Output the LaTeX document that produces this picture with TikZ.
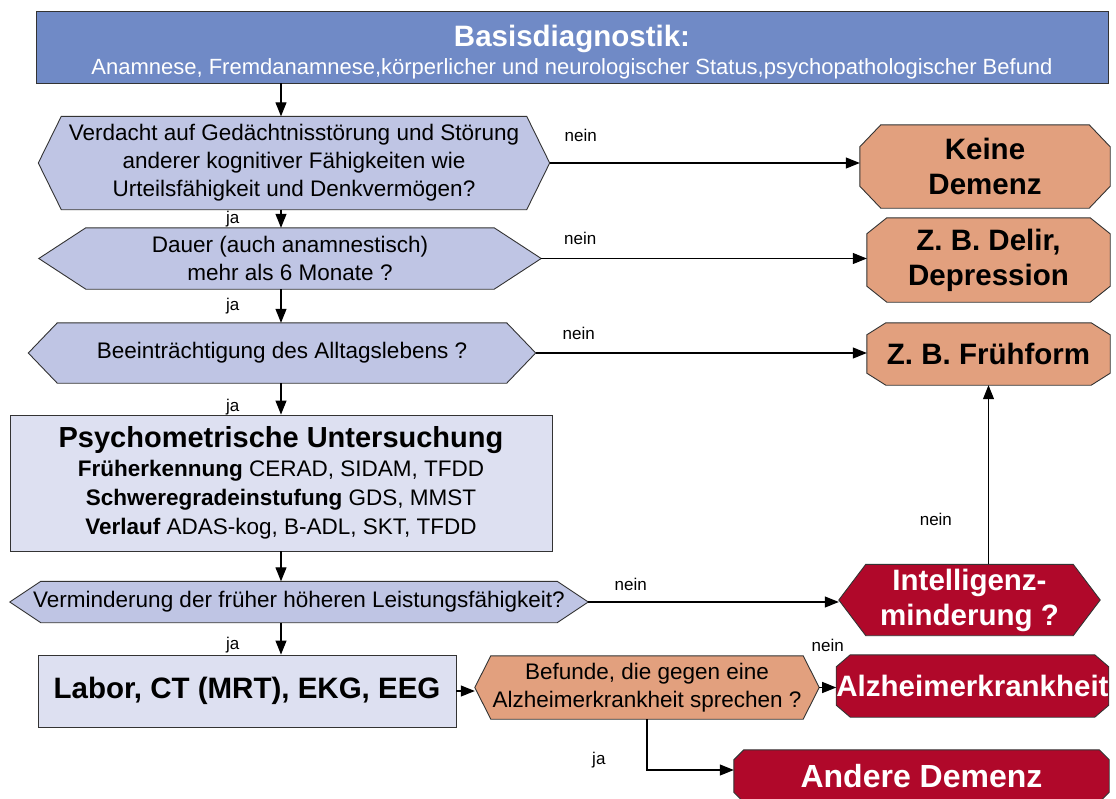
\documentclass[tikz,border=0pt]{standalone}
\usepackage{fontspec}
\setmainfont{Liberation Sans}
\usetikzlibrary{arrows.meta,backgrounds}
\definecolor{basisblue}{RGB}{112,138,198}
\definecolor{qlav}{RGB}{191,197,228}
\definecolor{boxlav}{RGB}{221,224,241}
\definecolor{dxorange}{RGB}{226,160,126}
\definecolor{dxred}{RGB}{176,8,42}
\newcommand{\fsz}[2]{\fontsize{#1}{#2}\selectfont}
% hexagon behind node #1, tip depth #2, style #3
\newcommand{\hexbg}[3]{%
  \path[#3] (#1.west) -- ([xshift=#2]#1.north west) -- ([xshift=-#2]#1.north east)
    -- (#1.east) -- ([xshift=-#2]#1.south east) -- ([xshift=#2]#1.south west) -- cycle;}
% octagon behind node #1, corner cut #2 x #3, style #4
\newcommand{\octbg}[4]{%
  \path[#4] ([xshift=#2]#1.north west) -- ([xshift=-#2]#1.north east)
    -- ([yshift=-#3]#1.north east) -- ([yshift=#3]#1.south east)
    -- ([xshift=-#2]#1.south east) -- ([xshift=#2]#1.south west)
    -- ([yshift=#3]#1.south west) -- ([yshift=-#3]#1.north west) -- cycle;}
\tikzset{
  fshape/.style={inner sep=0pt, align=center, font=\fsz{22.5}{28}},
  fq/.style    ={fill=qlav, draw=black!80, line width=0.9pt},
  forg/.style  ={fill=dxorange, draw=black!80, line width=0.9pt},
  fred/.style  ={fill=dxred, draw=black!80, line width=0.9pt},
  frect/.style ={fshape, fill=boxlav, draw=black!80, line width=0.9pt},
  fbig/.style  ={font=\fsz{29.5}{35}\bfseries},
  fwhite/.style={fbig, text=white},
  flbl/.style  ={font=\fsz{17}{20}, inner sep=1pt},
  far/.style   ={-{Triangle[length=14pt,width=11pt]}, line width=1.1pt},
}
\begin{document}
\begin{tikzpicture}[x=1pt, y=-1pt]
\useasboundingbox (0,0) rectangle (1116,798);
\coordinate (spine) at (281,0);

\node[fshape, fill=basisblue, draw=black!80, line width=0.9pt, text=white,
      minimum width=1072pt, minimum height=72pt] (basis) at (572,47)
  {{\fsz{29.5}{32}\bfseries\rule{0pt}{31pt}Basisdiagnostik:}\\
   \fsz{22}{24}Anamnese, Fremdanamnese,körperlicher und neurologischer Status,psychopathologischer Befund};
\node[fshape, minimum width=511pt, minimum height=93pt] (q1) at (294,163)
  {Verdacht auf Gedächtnisstörung und Störung\\anderer kognitiver Fähigkeiten wie\\Urteilsfähigkeit und Denkvermögen?};
\node[fshape, minimum width=502pt, minimum height=61pt] (q2) at (290,258.5)
  {Dauer (auch anamnestisch)\\mehr als 6 Monate ?};
\node[fshape, minimum width=507pt, minimum height=60pt] (q3) at (282,353)
  {Beeinträchtigung des Alltagslebens ?};
\node[frect, font=\fsz{22.5}{29}, minimum width=542pt, minimum height=136pt] (psy) at (281,483)
  {{\fsz{29}{32}\bfseries Psychometrische Untersuchung}\\
   \textbf{Früherkennung} CERAD, SIDAM, TFDD\\
   \textbf{Schweregradeinstufung} GDS, MMST\\
   \textbf{Verlauf} ADAS-kog, B-ADL, SKT, TFDD};
\node[fshape, minimum width=578pt, minimum height=41pt] (q4) at (299,602)
  {Verminderung der früher höheren Leistungsfähigkeit?};
\node[frect, fbig, minimum width=418pt, minimum height=72pt] (labor) at (247,691)
  {Labor, CT (MRT), EKG, EEG};
\node[fshape, minimum width=344pt, minimum height=63pt] (bef) at (647,687.5)
  {Befunde, die gegen eine\\Alzheimerkrankheit sprechen ?};
\node[fshape, fbig, minimum width=250pt, minimum height=83pt] (keine) at (985,166.5) {Keine\\Demenz};
\node[fshape, fbig, minimum width=243pt, minimum height=84pt] (delir) at (988.5,260) {Z. B. Delir,\\Depression};
\node[fshape, fbig, minimum width=243pt, minimum height=62pt] (frueh) at (988.5,354) {Z. B. Frühform};
\node[fshape, fwhite, minimum width=261pt, minimum height=71pt] (intel) at (969.5,600) {Intelligenz-\\minderung ?};
\node[fshape, fwhite, minimum width=267pt, minimum height=62pt] (alz) at (972.5,686) {Alzheimerkrankheit};
\node[fshape, fwhite, font=\fsz{32}{35}\bfseries, minimum width=375pt, minimum height=52pt] (andere) at (921.5,776) {Andere Demenz};

\begin{scope}[on background layer]
\hexbg{q1}{23pt}{fq}
\hexbg{q2}{47pt}{fq}
\hexbg{q3}{29pt}{fq}
\hexbg{q4}{31pt}{fq}
\hexbg{bef}{16pt}{forg}
\hexbg{intel}{27pt}{fred}
\octbg{keine}{21pt}{22pt}{forg}
\octbg{delir}{20pt}{16pt}{forg}
\octbg{frueh}{19pt}{12pt}{forg}
\octbg{alz}{14pt}{12pt}{fred}
\octbg{andere}{10pt}{10pt}{fred}
\end{scope}

\draw[far] (basis.south -| spine) -- (q1.north -| spine);
\draw[far] (q1.south -| spine) -- node[flbl, left=40pt] {ja} (q2.north -| spine);
\draw[far] (q2.south -| spine) -- node[flbl, left=40pt] {ja} (q3.north -| spine);
\draw[far] (q3.south -| spine) -- node[flbl, left=40pt, pos=0.75] {ja} (psy.north -| spine);
\draw[far] (psy.south -| spine) -- (q4.north -| spine);
\draw[far] (q4.south -| spine) -- node[flbl, left=40pt, pos=0.7] {ja} (labor.north -| spine);
\draw[far] (q1.east) -- node[flbl, pos=0.1, above=20pt] {nein} (q1.east -| keine.west);
\draw[far] (q2.east) -- node[flbl, pos=0.12, above=12pt] {nein} (q2.east -| delir.west);
\draw[far] (q3.east) -- node[flbl, pos=0.13, above=12pt] {nein} (q3.east -| frueh.west);
\draw[far] (q4.east) -- node[flbl, pos=0.17, above=10pt] {nein} (q4.east -| intel.west);
\draw[far] (frueh.south |- intel.north) -- node[flbl, pos=0.25, left=35pt] {nein} (frueh.south);
\draw[far] (labor.east) -- (labor.east -| bef.west);
\draw[far] (bef.east) -- node[flbl, above=34pt] {nein} (bef.east -| alz.west);
\draw[far] (bef.south) |- node[flbl, pos=0.4, left=40pt] {ja} ([yshift=6pt]andere.west);
\end{tikzpicture}
\end{document}
